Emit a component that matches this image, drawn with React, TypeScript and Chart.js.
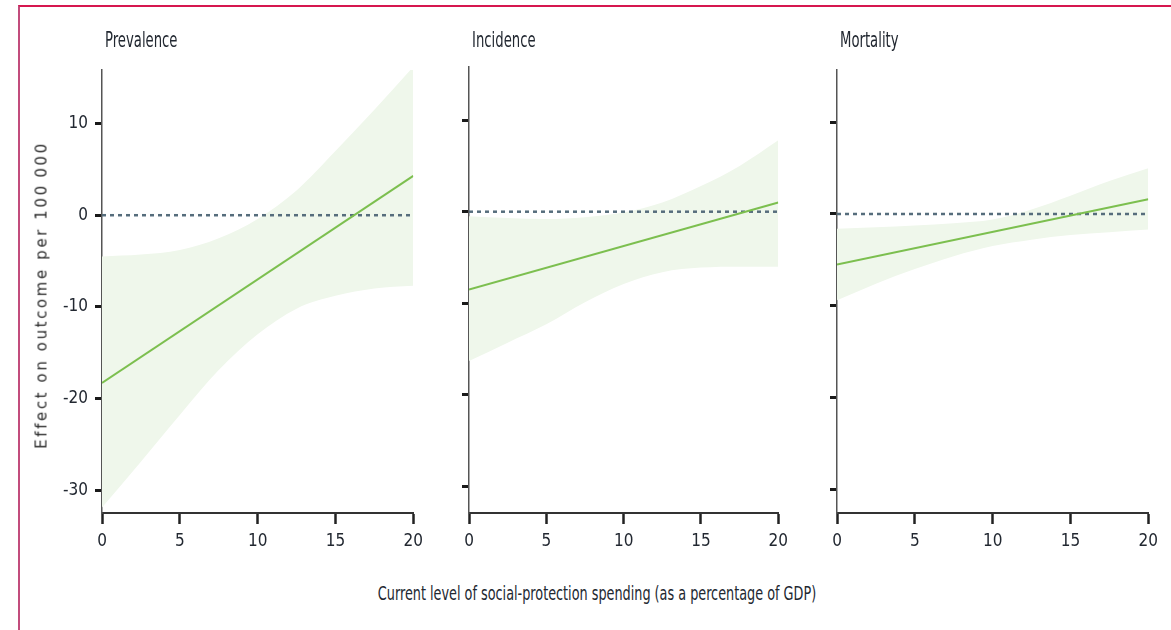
import React, { useEffect, useRef } from 'react';
import { Chart, registerables } from 'chart.js';

Chart.register(...registerables);

// ---------- data ----------
const xTicks = [0, 5, 10, 15, 20];
const yTicks = [-30, -20, -10, 0, 10];
const bandX = [0, 2.5, 5, 7.5, 10, 12.5, 15, 17.5, 20];
const fitX = [0, 20];
const refLine = [0, 0];

const panelTitles = ['Prevalence', 'Incidence', 'Mortality'];

const prevalenceFit = [-18.3, 4.3];
const prevalenceUpper = [-4.5, -4.3, -3.8, -2.5, -0.4, 2.7, 7.0, 11.5, 16.2];
const prevalenceLower = [-31.9, -26.9, -21.8, -16.9, -13.0, -10.2, -8.8, -8.0, -7.7];

const incidenceFit = [-8.5, 1.0];
const incidenceUpper = [-0.5, -0.7, -0.8, -0.6, -0.1, 1.0, 2.8, 5.0, 7.8];
const incidenceLower = [-16.3, -14.3, -12.3, -9.9, -7.9, -6.6, -6.1, -6.0, -6.0];

const mortalityFit = [-5.5, 1.6];
const mortalityUpper = [-1.6, -1.45, -1.25, -1.0, -0.6, 0.5, 2.0, 3.6, 5.0];
const mortalityLower = [-9.4, -7.6, -6.0, -4.6, -3.5, -2.8, -2.3, -2.0, -1.7];

const yAxisTitle = 'Effect on outcome per 100\u2009000';
const xAxisTitle = 'Current level of social-protection spending (as a percentage of GDP)';

// ---------- styling ----------
const NARROW = "'Liberation Sans Narrow', 'DejaVu Sans Condensed', 'Arial Narrow', 'Liberation Sans', sans-serif";
const TEXT = '#222831';
const LINE_GREEN = '#7cbf4f';
const BAND = 'rgb(239, 247, 235)';
const REF = '#566d7c';

type PanelSpec = {
  title: string;
  fit: number[];
  upper: number[];
  lower: number[];
  left: number;
  axisX: number;
  right: number;
  top: number;
  yMin: number;
  yMax: number;
  showYLabels: boolean;
};

const panels: PanelSpec[] = [
  { title: panelTitles[0], fit: prevalenceFit, upper: prevalenceUpper, lower: prevalenceLower, left: 0, axisX: 102, right: 414, top: 70, yMin: -32.5, yMax: 15.85, showYLabels: true },
  { title: panelTitles[1], fit: incidenceFit, upper: incidenceUpper, lower: incidenceLower, left: 430, axisX: 469, right: 779, top: 67, yMin: -32.9, yMax: 15.8, showYLabels: false },
  { title: panelTitles[2], fit: mortalityFit, upper: mortalityUpper, lower: mortalityLower, left: 800, axisX: 837, right: 1149, top: 70, yMin: -32.6, yMax: 15.7, showYLabels: false },
];

const AREA_BOTTOM = 513;
const X_SCALE_H = 40;
const RIGHT_PAD = 16;

function Panel({ p }: { p: PanelSpec }) {
  const ref = useRef<HTMLCanvasElement | null>(null);
  const width = p.right - p.left + RIGHT_PAD;
  const height = AREA_BOTTOM + X_SCALE_H;

  useEffect(() => {
    if (!ref.current) return;
    const pts = (xs: number[], ys: number[]) => xs.map((x, i) => ({ x, y: ys[i] }));
    const chart = new Chart(ref.current, {
      type: 'line',
      data: {
        datasets: [
          {
            label: 'fit',
            data: pts(fitX, p.fit),
            borderColor: LINE_GREEN,
            borderWidth: 2,
            pointRadius: 0,
            fill: false,
          },
          {
            label: 'reference',
            data: pts(fitX, refLine),
            borderColor: REF,
            borderWidth: 2.5,
            borderDash: [4, 4],
            pointRadius: 0,
            fill: false,
          },
          {
            label: 'lower',
            data: pts(bandX, p.lower),
            borderWidth: 0,
            borderColor: 'rgba(0,0,0,0)',
            pointRadius: 0,
            cubicInterpolationMode: 'monotone',
            fill: false,
          },
          {
            label: 'upper',
            data: pts(bandX, p.upper),
            borderWidth: 0,
            borderColor: 'rgba(0,0,0,0)',
            backgroundColor: BAND,
            pointRadius: 0,
            cubicInterpolationMode: 'monotone',
            fill: '-1',
          },
        ],
      },
      options: {
        responsive: false,
        animation: false,
        events: [],
        layout: { padding: { top: p.top, right: RIGHT_PAD, left: 0, bottom: 0 } },
        plugins: { legend: { display: false }, tooltip: { enabled: false }, title: { display: false } },
        scales: {
          x: {
            type: 'linear',
            position: 'bottom',
            min: 0,
            max: 20,
            afterBuildTicks: (s: any) => { s.ticks = xTicks.map((v) => ({ value: v })); },
            afterFit: (s: any) => { s.height = X_SCALE_H; },
            border: { display: true, color: '#333', width: 2 },
            grid: { display: true, drawOnChartArea: false, drawTicks: true, tickLength: 11, tickWidth: 2.5, tickColor: '#222' },
            ticks: { padding: 7, color: TEXT, font: { family: NARROW, size: 17 }, maxRotation: 0 },
          },
          y: {
            type: 'linear',
            min: p.yMin,
            max: p.yMax,
            afterBuildTicks: (s: any) => { s.ticks = yTicks.map((v) => ({ value: v })); },
            afterFit: (s: any) => { s.width = p.axisX - p.left; },
            border: { display: true, color: '#555', width: 1.5 },
            grid: { display: true, drawOnChartArea: false, drawTicks: true, tickLength: 7, tickWidth: 3, tickColor: '#1a1a1a' },
            ticks: { display: p.showYLabels, padding: 7, color: TEXT, font: { family: NARROW, size: 17 } },
          },
        },
      },
    } as any);
    return () => chart.destroy();
  }, []);

  return (
    <>
      <canvas
        ref={ref}
        width={width}
        height={height}
        style={{ position: 'absolute', left: p.left, top: 0, width, height }}
      />
      <div
        style={{
          position: 'absolute',
          left: p.axisX + 3,
          top: 40,
          transform: 'translateY(-50%) scaleX(0.70)',
          transformOrigin: 'left center',
          fontFamily: NARROW,
          fontSize: 21,
          color: TEXT,
          whiteSpace: 'nowrap',
          lineHeight: 1,
        }}
      >
        {p.title}
      </div>
    </>
  );
}

export default function App() {
  return (
    <div style={{ position: 'absolute', left: 0, top: 0, width: 1171, height: 630, background: '#fff', overflow: 'hidden' }}>
      <div
        style={{
          position: 'absolute',
          left: 18,
          top: 5,
          width: 1160,
          height: 640,
          borderTop: '2px solid #d6174f',
          borderLeft: '2px solid #c24c7c',
          boxSizing: 'border-box',
        }}
      />
      {panels.map((p, i) => (
        <Panel key={i} p={p} />
      ))}
      <div
        style={{
          position: 'absolute',
          left: 42,
          top: 295,
          transform: 'translate(-50%, -50%) rotate(-90deg)',
          fontFamily: "'DejaVu Sans', Verdana, sans-serif",
          fontSize: 15,
          letterSpacing: 2.6,
          color: '#2b2b2b',
          whiteSpace: 'nowrap',
          lineHeight: 1,
        }}
      >
        {yAxisTitle}
      </div>
      <div
        style={{
          position: 'absolute',
          left: 597,
          top: 593,
          transform: 'translate(-50%, -50%) scaleX(0.75)',
          fontFamily: NARROW,
          fontSize: 19,
          color: TEXT,
          whiteSpace: 'nowrap',
          lineHeight: 1,
        }}
      >
        {xAxisTitle}
      </div>
    </div>
  );
}
